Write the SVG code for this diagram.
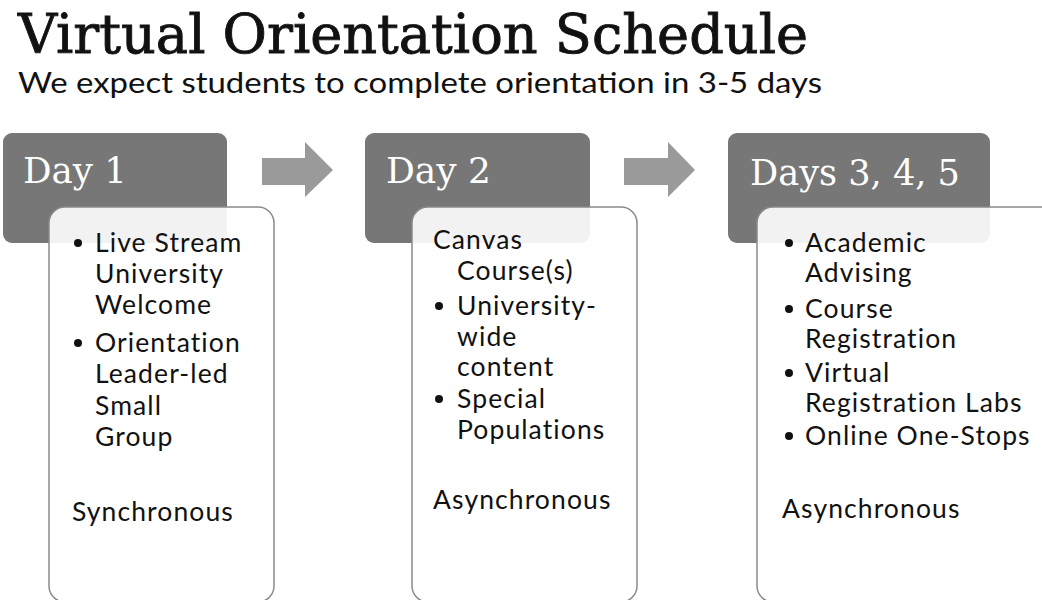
<svg xmlns="http://www.w3.org/2000/svg" width="1042" height="600" viewBox="0 0 1042 600">
<style>
.hdr{fill:#777777}
.box{fill:#ffffff;fill-opacity:0.9;stroke:#8a8a8a;stroke-width:1.5}
.arrow{fill:#9a9a9a}
.dot{fill:#111111}
.ht{font-family:"DejaVu Serif","Liberation Serif",serif;font-size:35px;fill:#ffffff}
.bt{font-family:Lato,"Noto Sans",sans-serif;font-size:26.5px;letter-spacing:1.1px;fill:#111111}
.title{font-family:"DejaVu Serif","Liberation Serif",serif;font-size:54px;font-stretch:condensed;fill:#111111;stroke:#111111;stroke-width:0.8}
.sub{font-family:Lato,"Noto Sans",sans-serif;font-size:29px;font-weight:400;fill:#111111}
</style>
<rect width="1042" height="600" fill="#ffffff"/>
<text class="title" x="18" y="53" textLength="790" lengthAdjust="spacingAndGlyphs">Virtual Orientation Schedule</text>
<text class="sub" x="18" y="93" textLength="804" lengthAdjust="spacingAndGlyphs">We expect students to complete orientation in 3-5 days</text>
<g id="connectors">
<polygon class="arrow" points="262,158 305,158 305,142 333,170 305,197 305,185 262,185"/>
<polygon class="arrow" points="624,158 668,158 668,142 695,170 668,197 668,185 624,185"/>
</g>
<g id="day1">
<rect class="hdr" x="3" y="133" width="224" height="110" rx="9"/>
<text class="ht" x="23" y="183" textLength="104" lengthAdjust="spacingAndGlyphs">Day 1</text>
<rect class="box" x="49" y="207" width="225" height="395" rx="16"/>
<g class="bt">
<circle class="dot" cx="78" cy="243" r="4"/>
<text x="95" y="252">Live Stream</text>
<text x="95" y="283">University</text>
<text x="95" y="314">Welcome</text>
<circle class="dot" cx="78" cy="343" r="4"/>
<text x="95" y="352">Orientation</text>
<text x="95" y="383">Leader-led</text>
<text x="95" y="415">Small</text>
<text x="95" y="446">Group</text>
<text x="72" y="521">Synchronous</text>
</g>
</g>
<g id="day2">
<rect class="hdr" x="365" y="133" width="225" height="110" rx="9"/>
<text class="ht" x="386" y="183" textLength="105" lengthAdjust="spacingAndGlyphs">Day 2</text>
<rect class="box" x="412" y="207" width="225" height="395" rx="16"/>
<g class="bt">
<text x="433" y="249">Canvas</text>
<text x="457" y="280">Course(s)</text>
<circle class="dot" cx="439" cy="306" r="4"/>
<text x="457" y="315">University-</text>
<text x="457" y="346">wide</text>
<text x="457" y="376">content</text>
<circle class="dot" cx="439" cy="399" r="4"/>
<text x="457" y="408">Special</text>
<text x="457" y="439">Populations</text>
<text x="433" y="509">Asynchronous</text>
</g>
</g>
<g id="day3">
<rect class="hdr" x="728" y="133" width="262" height="110" rx="9"/>
<text class="ht" x="750" y="185" textLength="210" lengthAdjust="spacingAndGlyphs">Days 3, 4, 5</text>
<rect class="box" x="757" y="207" width="300" height="395" rx="16"/>
<g class="bt">
<circle class="dot" cx="789" cy="243" r="4"/>
<text x="805" y="252">Academic</text>
<text x="805" y="282">Advising</text>
<circle class="dot" cx="789" cy="309" r="4"/>
<text x="805" y="318">Course</text>
<text x="805" y="348">Registration</text>
<circle class="dot" cx="789" cy="373" r="4"/>
<text x="805" y="382">Virtual</text>
<text x="805" y="412">Registration Labs</text>
<circle class="dot" cx="789" cy="436" r="4"/>
<text x="805" y="445">Online One-Stops</text>
<text x="782" y="518">Asynchronous</text>
</g>
</g>
</svg>
